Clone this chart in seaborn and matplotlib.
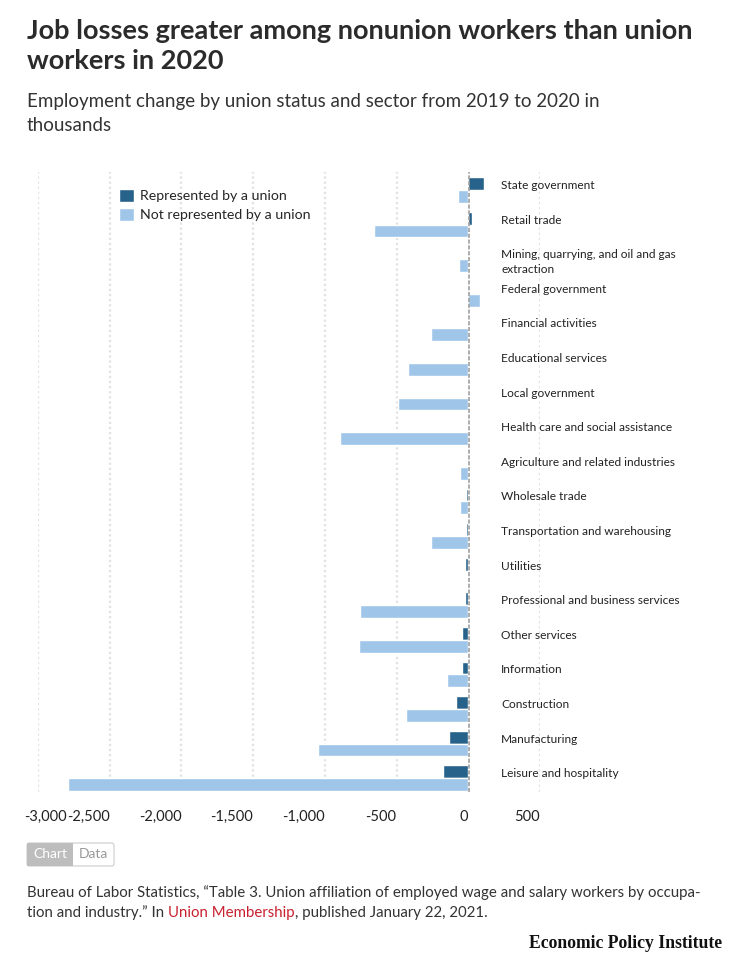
import matplotlib
matplotlib.use('Agg')
import numpy as np
import pandas as pd
import matplotlib.pyplot as plt
import matplotlib.transforms as mtransforms
from matplotlib.patches import FancyBboxPatch, Rectangle
import seaborn as sns

# data (thousands, change 2019 -> 2020)
sectors = ['State government', 'Retail trade', 'Mining, quarrying, and oil and gas\nextraction',
           'Federal government', 'Financial activities', 'Educational services', 'Local government',
           'Health care and social assistance', 'Agriculture and related industries', 'Wholesale trade',
           'Transportation and warehousing', 'Utilities', 'Professional and business services',
           'Other services', 'Information', 'Construction', 'Manufacturing', 'Leisure and hospitality']
union = [107, 23, 5, 5, 5, 4, -10, -10, -10, -16, -16, -26, -26, -42, -42, -84, -135, -177]
nonunion = [-74, -660, -67, 84, -260, -418, -493, -893, -58, -58, -260, 7, -753, -760, -151, -435, -1046, -2790]
series_names = ['Represented by a union', 'Not represented by a union']
xticks = [-3000, -2500, -2000, -1500, -1000, -500, 0, 500]
xtick_labels = ['-3,000', '-2,500', '-2,000', '-1,500', '-1,000', '-500', '0', '500']

dark = '#27628a'
light = '#9fc6e8'

df = pd.DataFrame({
    'Sector': sectors * 2,
    'Change': union + nonunion,
    'Status': [series_names[0]] * len(sectors) + [series_names[1]] * len(sectors),
})

sns.set_style('white')
plt.rcParams['font.family'] = ['Lato', 'DejaVu Sans']

fig = plt.figure(figsize=(7.56, 9.6), dpi=100)
W, H = 756, 960
ax = fig.add_axes([38 / W, 1 - 792 / H, 502 / W, 620 / H])

sns.barplot(data=df, y='Sector', x='Change', hue='Status', orient='h',
            palette=[dark, light], width=0.74, saturation=1, ax=ax, zorder=2)
handles, labels = ax.get_legend_handles_labels()
ax.get_legend().remove()

ax.set_xlim(-3000, 500)
ax.set_ylim(len(sectors) - 0.6, -0.52)
for x in xticks:
    if x == 0:
        continue
    ax.axvline(x, color='#e2e2e2', lw=1.6, ls=(0, (1, 1.3)), zorder=0)
# zero line, nudged a pixel right so the tiny bars stay visible
zl = ax.axvline(0, color='#a0a0a0', lw=1.2, ls=(0, (2.5, 1)), zorder=3)
zl.set_transform(zl.get_transform() + mtransforms.ScaledTranslation(0.009, 0, fig.dpi_scale_trans))

for s in ax.spines.values():
    s.set_visible(False)
ax.set_yticks([])
ax.set_ylabel('')
ax.set_xlabel('')
ax.set_xticks(xticks)
ax.set_xticklabels(xtick_labels, fontsize=10.5, color='#222')
ax.tick_params(axis='x', length=0, pad=13)
for i, lab in enumerate(ax.get_xticklabels()):
    lab.set_ha('right')
    if i == 0:
        lab.set_transform(lab.get_transform() + mtransforms.ScaledTranslation(0.29, 0, fig.dpi_scale_trans))

# sector labels on the right
for i, s in enumerate(sectors):
    ax.text(230, i - 0.29, s, ha='left', va='top', fontsize=8.6, color='#222',
            linespacing=1.45, clip_on=False, zorder=4)

fig.legend(handles=handles, labels=labels, loc='upper left', bbox_to_anchor=(119 / W, 1 - 189 / H),
           frameon=False, fontsize=10.2, handlelength=1.05, handleheight=1.05, labelspacing=0.36,
           handletextpad=0.45, borderaxespad=0, borderpad=0)

# titles
fig.text(27 / W, 1 - 19 / H, 'Job losses greater among nonunion workers than union\nworkers in 2020',
         ha='left', va='top', fontsize=19.5, fontweight='bold', color='#2b2b2b', linespacing=1.3)
fig.text(27 / W, 1 - 93 / H, 'Employment change by union status and sector from 2019 to 2020 in\nthousands',
         ha='left', va='top', fontsize=13.5, color='#333', linespacing=1.48)

# chart / data toggle
fig.patches.append(FancyBboxPatch((27 / W, 1 - 866 / H), 87 / W, 23 / H,
                                  boxstyle='round,pad=0,rounding_size=0.003', transform=fig.transFigure,
                                  facecolor='white', edgecolor='#cccccc', lw=0.8))
fig.patches.append(Rectangle((27 / W, 1 - 866 / H), 46 / W, 23 / H, transform=fig.transFigure,
                             facecolor='#bdbdbd', edgecolor='none'))
fig.text(50 / W, 1 - 854.5 / H, 'Chart', ha='center', va='center', fontsize=10, color='white')
fig.text(93.5 / W, 1 - 854.5 / H, 'Data', ha='center', va='center', fontsize=10, color='#999')

# source note
src_size = 10.8
fig.text(27 / W, 1 - 897 / H,
         'Bureau of Labor Statistics, \u201cTable 3. Union affiliation of employed wage and salary workers by occupa-',
         ha='left', fontsize=src_size, color='#333', va='baseline')
fig.canvas.draw()
renderer = fig.canvas.get_renderer()
x0 = 27 / W
y2 = 1 - 917 / H
for piece, col in [('tion and industry.\u201d In ', '#333'), ('Union Membership', '#c8202f'),
                   (', published January 22, 2021.', '#333')]:
    t = fig.text(x0, y2, piece, ha='left', fontsize=src_size, color=col, va='baseline')
    bb = t.get_window_extent(renderer=renderer)
    x0 += bb.width / fig.bbox.width

fig.text(722 / W, 1 - 943 / H, 'Economic Policy Institute', ha='right', va='center',
         fontsize=12.7, fontweight='bold', family=['Liberation Serif', 'DejaVu Serif'], color='#111')

fig.savefig('out.png', dpi=100)
